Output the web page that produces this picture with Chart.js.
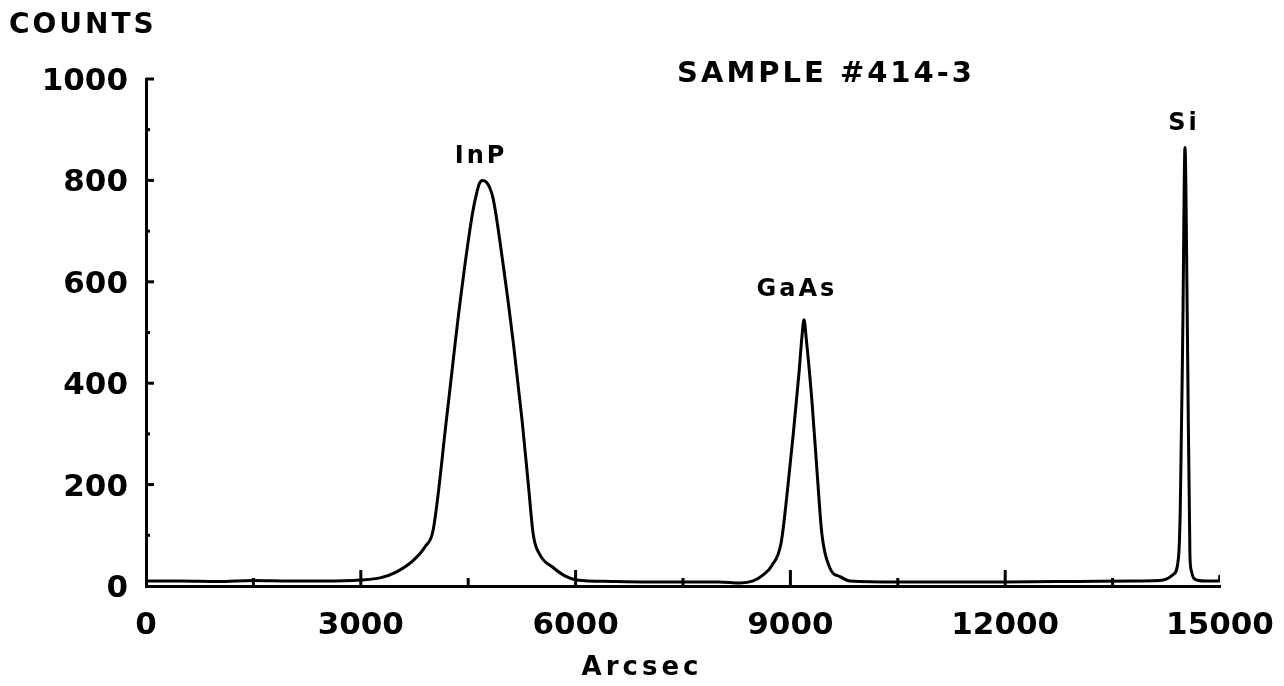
<!DOCTYPE html>
<html>
<head>
<meta charset="utf-8">
<script src="https://cdn.jsdelivr.net/npm/chart.js@4.4.1/dist/chart.umd.min.js"></script>
<style>
  html, body { margin: 0; padding: 0; background: #fff; }
  #wrap { width: 1284px; height: 686px; position: relative; }
</style>
</head>
<body>
<div id="wrap"><canvas id="xrdChart"></canvas></div>
<script>
// rocking curve, sample #414-3
const arcsec = [0, 500, 1000, 1500, 2000, 2500, 3000, 3270, 3500, 3730, 3900, 4010, 4200, 4385, 4560, 4620, 4660, 4700, 4750, 4800, 4850, 4990, 5130, 5250, 5340, 5410, 5500, 5690, 5850, 6015, 6500, 7000, 7500, 8000, 8300, 8480, 8620, 8740, 8870, 8960, 9040, 9120, 9160, 9190, 9220, 9300, 9370, 9440, 9550, 9700, 9830, 10500, 11000, 12000, 13000, 13800, 14160, 14350, 14420, 14445, 14480, 14511, 14545, 14580, 14600, 14630, 14700, 14810, 14990, 15000];
const counts = [10, 10, 9, 11, 10, 10, 12, 16, 28, 50, 78, 110, 333, 558, 735, 776, 795, 800, 797, 786, 763, 632, 480, 330, 200, 100, 62, 36, 20, 12, 9, 8, 8, 8, 6, 10, 22, 40, 85, 190, 300, 420, 490, 525, 490, 366, 230, 102, 36, 18, 10, 8, 8, 8, 9, 10, 11, 23, 56, 150, 500, 865, 500, 60, 30, 16, 11, 10, 10, 22];

// peak labels (text anchors in data units)
const peakNames = ['InP', 'GaAs', 'Si'];
const peakLabelX = [4679, 9092, 14497];
const peakLabelY = [846, 584, 911];

const xTicks = [0, 3000, 6000, 9000, 12000, 15000];
const yTicks = [0, 200, 400, 600, 800, 1000];

const FONT = '"DejaVu Sans", "Liberation Sans", sans-serif';

const insideTicks = {
    id: 'insideTicks',
    afterDraw(chart) {
        const ctx = chart.ctx;
        const xs = chart.scales.x, ys = chart.scales.y;
        const base = ys.getPixelForValue(0);
        const left = xs.getPixelForValue(0);
        ctx.save();
        ctx.strokeStyle = '#000';
        ctx.lineWidth = 3;
        for (let v = 1500; v < 15000; v += 1500) {
            const px = xs.getPixelForValue(v);
            const len = v % 3000 === 0 ? 16 : 8;
            ctx.beginPath();
            ctx.moveTo(px, base);
            ctx.lineTo(px, base - len);
            ctx.stroke();
        }
        for (let v = 100; v <= 1000; v += 100) {
            const py = ys.getPixelForValue(v);
            const len = v % 200 === 0 ? 8 : 4;
            ctx.beginPath();
            ctx.moveTo(left, py);
            ctx.lineTo(left + len, py);
            ctx.stroke();
        }
        ctx.restore();
    }
};

const textLabels = {
    id: 'textLabels',
    afterDraw(chart) {
        const ctx = chart.ctx;
        const xs = chart.scales.x, ys = chart.scales.y;
        ctx.save();
        ctx.fillStyle = '#000';
        ctx.textBaseline = 'middle';

        ctx.letterSpacing = '3px';
        ctx.font = 'bold 28px ' + FONT;
        ctx.textAlign = 'left';
        ctx.fillText('COUNTS', 9, 26);

        ctx.font = 'bold 29px ' + FONT;
        ctx.textAlign = 'center';
        ctx.fillText('SAMPLE #414-3', 826, 74);

        ctx.letterSpacing = '4px';
        ctx.font = 'bold 26px ' + FONT;
        ctx.fillText('Arcsec', 642, 668);

        ctx.letterSpacing = '3px';
        ctx.font = 'bold 24px ' + FONT;
        peakNames.forEach((name, i) => {
            ctx.fillText(name, xs.getPixelForValue(peakLabelX[i]), ys.getPixelForValue(peakLabelY[i]));
        });
        ctx.restore();
    }
};

const ctx = document.getElementById('xrdChart').getContext('2d');
new Chart(ctx, {
    type: 'line',
    data: {
        datasets: [{
            data: arcsec.map((x, i) => ({ x: x, y: counts[i] })),
            borderColor: '#000',
            borderWidth: 3,
            pointRadius: 0,
            fill: false,
            cubicInterpolationMode: 'monotone'
        }]
    },
    options: {
        responsive: true,
        maintainAspectRatio: false,
        animation: false,
        layout: {
            padding: { top: 79, right: 64, left: 0, bottom: 0 }
        },
        plugins: {
            legend: { display: false },
            tooltip: { enabled: false }
        },
        scales: {
            x: {
                type: 'linear',
                min: 0,
                max: 15000,
                afterBuildTicks: s => { s.ticks = xTicks.map(v => ({ value: v })); },
                afterFit: s => { s.height = 100; s.paddingLeft = 0; s.paddingRight = 0; },
                ticks: {
                    color: '#000',
                    padding: 21,
                    maxRotation: 0,
                    autoSkip: false,
                    font: { family: FONT, weight: 'bold', size: 31 },
                    callback: v => String(v)
                },
                grid: { display: false, drawTicks: false },
                border: { display: true, color: '#000', width: 3 }
            },
            y: {
                min: 0,
                max: 1000,
                afterBuildTicks: s => { s.ticks = yTicks.map(v => ({ value: v })); },
                afterFit: s => { s.width = 146; s.paddingTop = 0; s.paddingBottom = 0; },
                ticks: {
                    color: '#000',
                    padding: 18,
                    labelOffset: 3,
                    font: { family: FONT, weight: 'bold', size: 31 },
                    callback: v => String(v)
                },
                grid: { display: false, drawTicks: false },
                border: { display: true, color: '#000', width: 3 }
            }
        }
    },
    plugins: [insideTicks, textLabels]
});
</script>
</body>
</html>
